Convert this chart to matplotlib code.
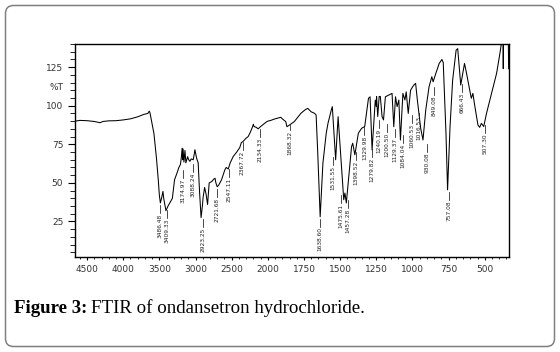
import numpy as np
import matplotlib
matplotlib.use('Agg')
import matplotlib.pyplot as plt
from matplotlib.patches import FancyBboxPatch
from matplotlib.transforms import IdentityTransform

# FTIR spectrum (wavenumber cm-1, %T)
wavenumber = [4666, 4600, 4500, 4400, 4320, 4280, 4200, 4100, 4000, 3900, 3800, 3720, 3660,
              3640, 3630, 3575, 3540, 3515, 3500, 3486, 3470, 3450, 3440, 3409, 3380, 3350,
              3320, 3290, 3255, 3230, 3208, 3195, 3185, 3178, 3172, 3160, 3146, 3133, 3109,
              3095, 3077, 3060, 3032, 3020, 3008, 2985, 2963, 2945, 2923, 2905, 2894, 2874,
              2855, 2833, 2811, 2790, 2773, 2746, 2730, 2718, 2700, 2680, 2663, 2640, 2594,
              2575, 2547, 2520, 2480, 2430, 2387, 2367, 2340, 2300, 2272, 2240, 2210, 2200,
              2190, 2160, 2134, 2100, 2060, 2020, 2000,
              1980, 1950, 1934, 1910, 1900, 1876, 1868, 1850, 1817, 1771, 1740, 1724, 1701,
              1677, 1666, 1655, 1638, 1619, 1596, 1584, 1561, 1554, 1531, 1514, 1475, 1467,
              1457, 1421, 1413, 1398, 1374, 1351, 1330, 1304, 1293, 1279, 1257, 1250, 1248,
              1240, 1230, 1222, 1210, 1200, 1187, 1164, 1141, 1129, 1117, 1106, 1094, 1083,
              1066, 1052, 1043, 1029, 1013, 1001, 990, 978, 966, 955, 943, 927, 908, 885,
              866, 857, 838, 815, 796, 787, 768, 757, 740, 722, 698, 687, 666, 640, 628, 593,
              582, 570, 547, 535, 523, 507, 488, 453, 418, 395, 384, 378, 374, 372, 370, 345,
              337, 335]
transmittance = [90, 90.5, 90.3, 89.8, 89, 89.8, 90.2, 90.3, 90.8, 91.5, 92.8, 94.3, 95,
                 96.5, 95.5, 82, 66, 52, 42, 37, 40, 44.5, 40, 32, 35, 37.5,
                 40, 52, 56.5, 60, 62, 67, 72.5, 65, 72, 63.5, 71, 63, 67,
                 65, 64, 65.5, 65, 68, 71.5, 66, 63, 45, 27.5, 35, 41, 47,
                 43, 36, 50, 50.5, 51, 52.5, 53, 50, 47.5, 48.5, 50, 52, 58.5,
                 60, 59, 63, 67, 70, 73, 76, 77, 79, 80, 83, 86.5, 88,
                 86.5, 86, 85, 86.5, 88, 89.5, 90,
                 90.5, 91.5, 91.9, 92.5, 91.5, 89.7, 86.4, 87.5, 89.7, 95.1, 97.5, 98.3, 96.1,
                 95.1, 94, 70, 28, 62.8, 82.2, 88.6, 97.2, 99.4, 65, 92.9, 39.1, 43.4,
                 37, 73.5, 75.7, 68.2, 82.2, 85.4, 86.5, 104.8, 105.8, 71.4, 103.7, 99.4, 106,
                 93, 106, 106, 92.9, 90.8, 105.8, 106.9, 108, 86.4, 105.8, 99.4, 103.7, 77.8,
                 108, 103.7, 109, 95, 110, 111.9, 113.4, 114.5, 103.7, 95, 85.4, 77.8, 97.2, 112.3,
                 118.8, 115.5, 121, 127.4, 130, 128, 82, 45.5, 86.4, 116.6, 136, 137, 113.4, 127.4, 122, 104.8,
                 108, 100.5, 87.5, 86, 88.6, 86.5, 95, 108, 121, 134, 141, 143, 143, 124, 143, 143,
                 143, 124]

# peak annotations
peak_labels = ['3486.48', '3409.33', '3174.97', '3088.24', '2923.25', '2721.68', '2547.11',
               '2367.72', '2134.33', '1868.32', '1638.60', '1531.55', '1475.61', '1457.28',
               '1398.52', '1329.98', '1279.82', '1240.19', '1200.50', '1129.37', '1084.04',
               '1060.53', '1016.53', '930.08', '849.08', '757.08', '666.43', '507.30']
# where the rotated label text sits (x in cm-1, top in %T)
label_x = [3492, 3395, 3174, 3040, 2902, 2700, 2534, 2350, 2110, 1848, 1642, 1549, 1495, 1444,
           1393, 1332, 1281, 1234, 1176, 1122, 1066, 1006, 955, 901, 850, 750, 656, 500]
label_top = [30.7, 27.5, 53.3, 57.2, 21.6, 41, 54, 71.4, 79.8, 84.3, 21.6, 61.7, 37.1, 33.9,
             64.9, 81, 66.9, 85.6, 83, 79.8, 75.9, 88.8, 94, 70, 106.9, 39, 108.8, 82.4]

major_x = [4500, 4000, 3500, 3000, 2500, 2000, 1750, 1500, 1250, 1000, 750, 500]
major_y = [25, 50, 75, 100, 125]


# usual FTIR axis: scale doubles below 2000 cm-1
def fwd(w):
    w = np.asarray(w, float)
    return np.where(w >= 2000, w / 500.0, w / 250.0 - 4.0)


def inv(u):
    u = np.asarray(u, float)
    return np.where(u >= 4, u * 500.0, (u + 4.0) * 250.0)


fig = plt.figure(figsize=(5.6, 3.52), dpi=100)
ax = fig.add_axes([0.134, 0.270, 0.775, 0.605])
ax.set_xscale('function', functions=(fwd, inv))
ax.set_xlim(4666, 332)
ax.set_ylim(2, 140)

ax.plot(wavenumber, transmittance, color='black', lw=0.75)

wn_rev = np.array(wavenumber[::-1], float)
t_rev = np.array(transmittance[::-1], float)
for lab, lx, top in zip(peak_labels, label_x, label_top):
    curve = np.interp(lx, wn_rev, t_rev)
    ax.plot([lx, lx], [top, min(curve, top + 5)], color='black', lw=0.5)
    ax.text(lx, top - 0.5, lab, rotation=90, ha='center', va='top', fontsize=4.2,
            color='#222222')

ax.set_xticks(major_x)
ax.set_xticklabels([str(v) for v in major_x])
minor_x = [v for v in range(4600, 2000, -100) if v not in major_x] + \
          [v for v in range(1950, 300, -50) if v not in major_x]
ax.set_xticks(minor_x, minor=True)
ax.set_yticks(major_y)
ax.set_yticks([v for v in range(5, 141, 5) if v not in major_y], minor=True)

ax.tick_params(axis='y', which='major', length=5, width=0.8, pad=3.5, labelsize=6.5,
               labelcolor='#333333')
ax.tick_params(axis='y', which='minor', length=3.5, width=0.6)
ax.tick_params(axis='x', which='major', length=2.5, width=0.8, pad=3, labelsize=6.5,
               labelcolor='#333333')
ax.tick_params(axis='x', which='minor', length=1.5, width=0.6)
for s in ax.spines.values():
    s.set_linewidth(1.0)

ax.text(-0.026, 112, '%T', transform=ax.get_yaxis_transform(), ha='right', va='center',
        fontsize=6.5, color='#333333')

# caption
cap1 = fig.text(14 / 560, 1 - 313 / 352, 'Figure 3:', fontsize=13.6, fontweight='bold',
                family='Liberation Serif', va='baseline')
fig.canvas.draw()
bb = cap1.get_window_extent(fig.canvas.get_renderer())
fig.text((bb.x1 + 4) / 560, 1 - 313 / 352, 'FTIR of ondansetron hydrochloride.', fontsize=13.6,
         family='Liberation Serif', va='baseline')

# rounded frame around the whole figure
frame = FancyBboxPatch((5.5, 5.5), 549, 341, boxstyle='round,pad=0,rounding_size=8',
                       transform=IdentityTransform(), fill=False, edgecolor='#808080', lw=1.1)
fig.add_artist(frame)

fig.savefig('out.png', dpi=100)
